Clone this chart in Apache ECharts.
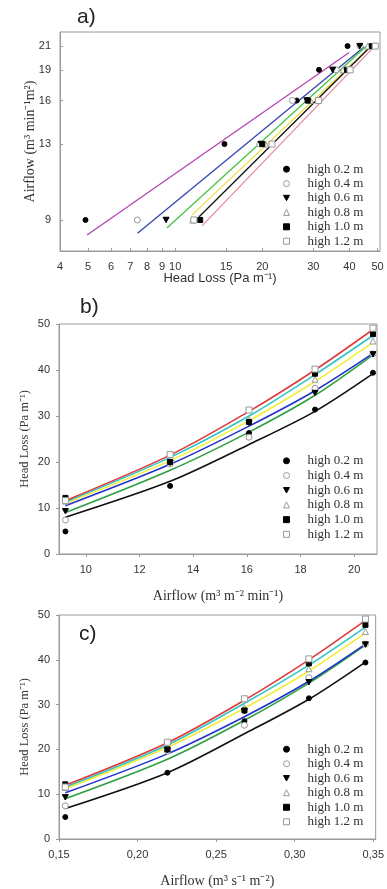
<!DOCTYPE html>
<html><head><meta charset="utf-8">
<script src="https://cdn.jsdelivr.net/npm/echarts@6/dist/echarts.min.js"></script>
<style>html,body{margin:0;padding:0;background:#fff}#c{width:387px;height:889px}</style>
</head><body><div id="c"></div>
<script>
// ---- data ----
const seriesNames = ['high 0.2 m', 'high 0.4 m', 'high 0.6 m', 'high 0.8 m', 'high 1.0 m', 'high 1.2 m'];
const airflowMin = [9.24, 13.14, 16.08, 18.54, 20.7];      // m3 m-2 min-1
const airflowSec = [0.154, 0.219, 0.268, 0.309, 0.345];    // m3 s-1 m-2
const headLoss02 = [4.9, 14.8, 26.3, 31.4, 39.4];
const headLoss04 = [7.4, 19.6, 25.4, 36.0, 43.5];
const headLoss06 = [9.3, 19.8, 28.5, 35.0, 43.4];
const headLoss08 = [11.5, 20.5, 29.3, 38.0, 46.3];
const headLoss10 = [12.2, 20.0, 28.7, 39.2, 47.8];
const headLoss12 = [11.6, 21.6, 31.3, 40.2, 49.1];
// panel a fitted lines (log-log), endpoints
const fitAHeadStart = [4.96, 7.41, 9.36, 11.44, 12.1, 12.4];
const fitAHeadEnd   = [39.9, 44.8, 45.8, 47.9, 47.9, 48.5];
const fitAFlowStart = [8.62, 8.69, 8.90, 9.46, 9.38, 9.0];
const fitAFlowEnd   = [20.1, 20.6, 20.7, 20.8, 20.8, 20.6];
// panel b fitted curves read at airflowMin
const fitB02 = [8.0, 15.8, 23.8, 31.0, 39.2];
const fitB04 = [9.0, 18.2, 26.5, 34.5, 43.3];
const fitB06 = [10.5, 19.5, 27.8, 35.5, 43.6];
const fitB08 = [11.0, 20.3, 29.0, 37.5, 46.0];
const fitB10 = [11.3, 21.0, 30.0, 39.0, 47.5];
const fitB12 = [11.6, 21.5, 31.0, 40.0, 48.8];
// panel c fitted curves read at airflowSec
const fitC02 = [6.8, 14.8, 23.5, 31.2, 39.5];
const fitC04 = [9.0, 17.8, 26.5, 34.8, 43.3];
const fitC06 = [10.3, 19.0, 27.3, 35.2, 43.5];
const fitC08 = [11.2, 20.5, 29.2, 37.5, 46.0];
const fitC10 = [11.6, 21.0, 30.3, 38.8, 47.3];
const fitC12 = [12.0, 21.5, 31.0, 40.0, 48.8];
// tick labels
const ticksAX = [4, 5, 6, 7, 8, 9, 10, 15, 20, 30, 40, 50];
const ticksAY = airflowMin;
const ticksBX = [10, 12, 14, 16, 18, 20];

// ---- styling ----
const heads = [headLoss02, headLoss04, headLoss06, headLoss08, headLoss10, headLoss12];
const fitsB = [fitB02, fitB04, fitB06, fitB08, fitB10, fitB12];
const fitsC = [fitC02, fitC04, fitC06, fitC08, fitC10, fitC12];
const colorsA = ['#b444b4', '#3344b0', '#44c444', '#eee044', '#111111', '#e88a9a'];
const colorsBC = ['#111111', '#2fa040', '#2233c8', '#f2ee3a', '#33c4c4', '#e03a3a'];
const DOWN_TRI = 'path://M0,0 L10,0 L5,9 Z';
const markers = [
  {symbol: 'circle', fill: '#000', border: '#000', size: 5},
  {symbol: 'circle', fill: '#fff', border: '#999', size: 6},
  {symbol: DOWN_TRI, fill: '#000', border: '#000', size: 6},
  {symbol: 'triangle', fill: '#fff', border: '#999', size: 6},
  {symbol: 'rect', fill: '#000', border: '#000', size: 5},
  {symbol: 'rect', fill: '#fff', border: '#999', size: 6}
];
const SANS = 'Liberation Sans, Arial, sans-serif';
const SERIF = 'Liberation Serif, Times New Roman, serif';
const frame = '#9a9a9a';

function axisBase(extra) {
  return Object.assign({
    axisLine: {show: true, lineStyle: {color: frame, width: 1}},
    axisTick: {show: true, length: 3, lineStyle: {color: frame}},
    axisLabel: {color: '#333', fontFamily: SANS, fontSize: 11},
    splitLine: {show: false},
    nameLocation: 'middle',
    nameMoveOverlap: false,
    nameTextStyle: {color: '#333', fontFamily: SERIF, fontSize: 13}
  }, extra);
}

const grids = [
  {left: 60, top: 32, width: 320, height: 219},
  {left: 59, top: 324, width: 318, height: 230},
  {left: 59, top: 615, width: 318, height: 225}
].map(g => Object.assign({show: true, borderColor: frame, borderWidth: 1, backgroundColor: '#fff'}, g));

const xAxes = [
  axisBase({gridIndex: 0, type: 'log', logBase: 10, min: 4, max: 51,
    axisTick: {show: true, inside: true, length: 3, lineStyle: {color: frame}, customValues: ticksAX},
    axisLabel: {color: '#333', fontFamily: SANS, fontSize: 11, margin: 10, customValues: ticksAX,
      formatter: v => String(Math.round(v))},
    name: 'Head Loss (Pa m\u207B\u00B9)', nameGap: 21,
    nameTextStyle: {color: '#333', fontFamily: SANS, fontSize: 13}}),
  axisBase({gridIndex: 1, type: 'value', min: 9.0, max: 20.85,
    axisTick: {show: true, length: 3, lineStyle: {color: frame}, customValues: ticksBX},
    axisLabel: {color: '#333', fontFamily: SANS, fontSize: 11, margin: 10, customValues: ticksBX},
    name: 'Airflow (m\u00B3 m\u207B\u00B2 min\u207B\u00B9)', nameGap: 35,
    nameTextStyle: {color: '#333', fontFamily: SERIF, fontSize: 14}}),
  axisBase({gridIndex: 2, type: 'value', min: 0.15, max: 0.3515, interval: 0.05,
    axisLabel: {color: '#333', fontFamily: SANS, fontSize: 11, margin: 10,
      formatter: v => v.toFixed(2).replace('.', ',')},
    name: 'Airflow (m\u00B3 s\u207B\u00B9 m\u207B\u00B2)', nameGap: 35,
    nameTextStyle: {color: '#333', fontFamily: SERIF, fontSize: 14}})
];
const yAxes = [
  axisBase({gridIndex: 0, type: 'log', logBase: 10, min: 8.0, max: 22.1,
    axisTick: {show: true, inside: true, length: 3, lineStyle: {color: frame}, customValues: ticksAY},
    axisLabel: {color: '#333', fontFamily: SANS, fontSize: 11, margin: 9, customValues: ticksAY,
      formatter: v => String(Math.round(v))},
    name: 'Airflow (m\u00B3 min\u207B\u00B9m\u00B2)', nameGap: 23,
    nameTextStyle: {color: '#333', fontFamily: SERIF, fontSize: 14}}),
  axisBase({gridIndex: 1, type: 'value', min: 0, max: 50, interval: 10,
    axisLabel: {color: '#333', fontFamily: SANS, fontSize: 11, margin: 9},
    name: 'Head Loss (Pa m\u207B\u00B9)', nameGap: 28,
    nameTextStyle: {color: '#333', fontFamily: SERIF, fontSize: 12.5}}),
  axisBase({gridIndex: 2, type: 'value', min: 0, max: 50, interval: 10,
    axisLabel: {color: '#333', fontFamily: SANS, fontSize: 11, margin: 9},
    name: 'Head Loss (Pa m\u207B\u00B9)', nameGap: 28,
    nameTextStyle: {color: '#333', fontFamily: SERIF, fontSize: 12.5}})
];

const series = [];
// fitted lines first (drawn below markers)
for (let k = 0; k < 6; k++) {
  series.push({type: 'line', name: 'fitA' + k, xAxisIndex: 0, yAxisIndex: 0, symbol: 'none',
    lineStyle: {color: colorsA[k], width: 1.3}, silent: true, z: 2,
    data: [[fitAHeadStart[k], fitAFlowStart[k]], [fitAHeadEnd[k], fitAFlowEnd[k]]]});
  series.push({type: 'line', name: 'fitB' + k, xAxisIndex: 1, yAxisIndex: 1, symbol: 'none',
    smooth: 0.3,
    lineStyle: {color: colorsBC[k], width: 1.6}, silent: true, z: 2,
    data: airflowMin.map((x, i) => [x, fitsB[k][i]])});
  series.push({type: 'line', name: 'fitC' + k, xAxisIndex: 2, yAxisIndex: 2, symbol: 'none',
    smooth: 0.3,
    lineStyle: {color: colorsBC[k], width: 1.6}, silent: true, z: 2,
    data: airflowSec.map((x, i) => [x, fitsC[k][i]])});
}
for (let k = 0; k < 6; k++) {
  const m = markers[k];
  const common = {type: 'scatter', name: seriesNames[k], symbol: m.symbol,
    symbolSize: m.size, symbolKeepAspect: true, z: 3,
    itemStyle: {color: m.fill, borderColor: m.border, borderWidth: 1, opacity: 1}};
  series.push(Object.assign({}, common, {xAxisIndex: 0, yAxisIndex: 0,
    data: heads[k].map((h, i) => [h, airflowMin[i]])}));
  series.push(Object.assign({}, common, {xAxisIndex: 1, yAxisIndex: 1,
    data: airflowMin.map((x, i) => [x, heads[k][i]])}));
  series.push(Object.assign({}, common, {xAxisIndex: 2, yAxisIndex: 2,
    data: airflowSec.map((x, i) => [x, heads[k][i]])}));
}

const legendData = seriesNames.map((n, k) => ({
  name: n, icon: markers[k].symbol,
  itemStyle: {color: markers[k].fill, borderColor: markers[k].border, borderWidth: 1}
}));

function legendAt(top, lh) {
  return {orient: 'vertical', left: 278, top: top, data: legendData,
    itemWidth: 6, itemHeight: 6, itemGap: 0, selectedMode: false,
    textStyle: {color: '#333', fontFamily: SERIF, fontSize: 13, lineHeight: lh, padding: [0, 0, 0, 13]}};
}

const option = {
  animation: false,
  backgroundColor: '#fff',
  title: [
    {text: 'a)', left: 72, top: 2, textStyle: {fontFamily: SANS, fontSize: 21, fontWeight: 'normal', color: '#222'}},
    {text: 'b)', left: 75, top: 292, textStyle: {fontFamily: SANS, fontSize: 21, fontWeight: 'normal', color: '#222'}},
    {text: 'c)', left: 74, top: 619, textStyle: {fontFamily: SANS, fontSize: 21, fontWeight: 'normal', color: '#222'}}
  ],
  legend: [legendAt(157, 14.4), legendAt(448.5, 14.7), legendAt(737, 14.5)],
  grid: grids,
  xAxis: xAxes,
  yAxis: yAxes,
  series: series
};
const chart = echarts.init(document.getElementById('c'), null, {renderer: 'canvas'});
chart.setOption(option);
</script>
</body></html>
